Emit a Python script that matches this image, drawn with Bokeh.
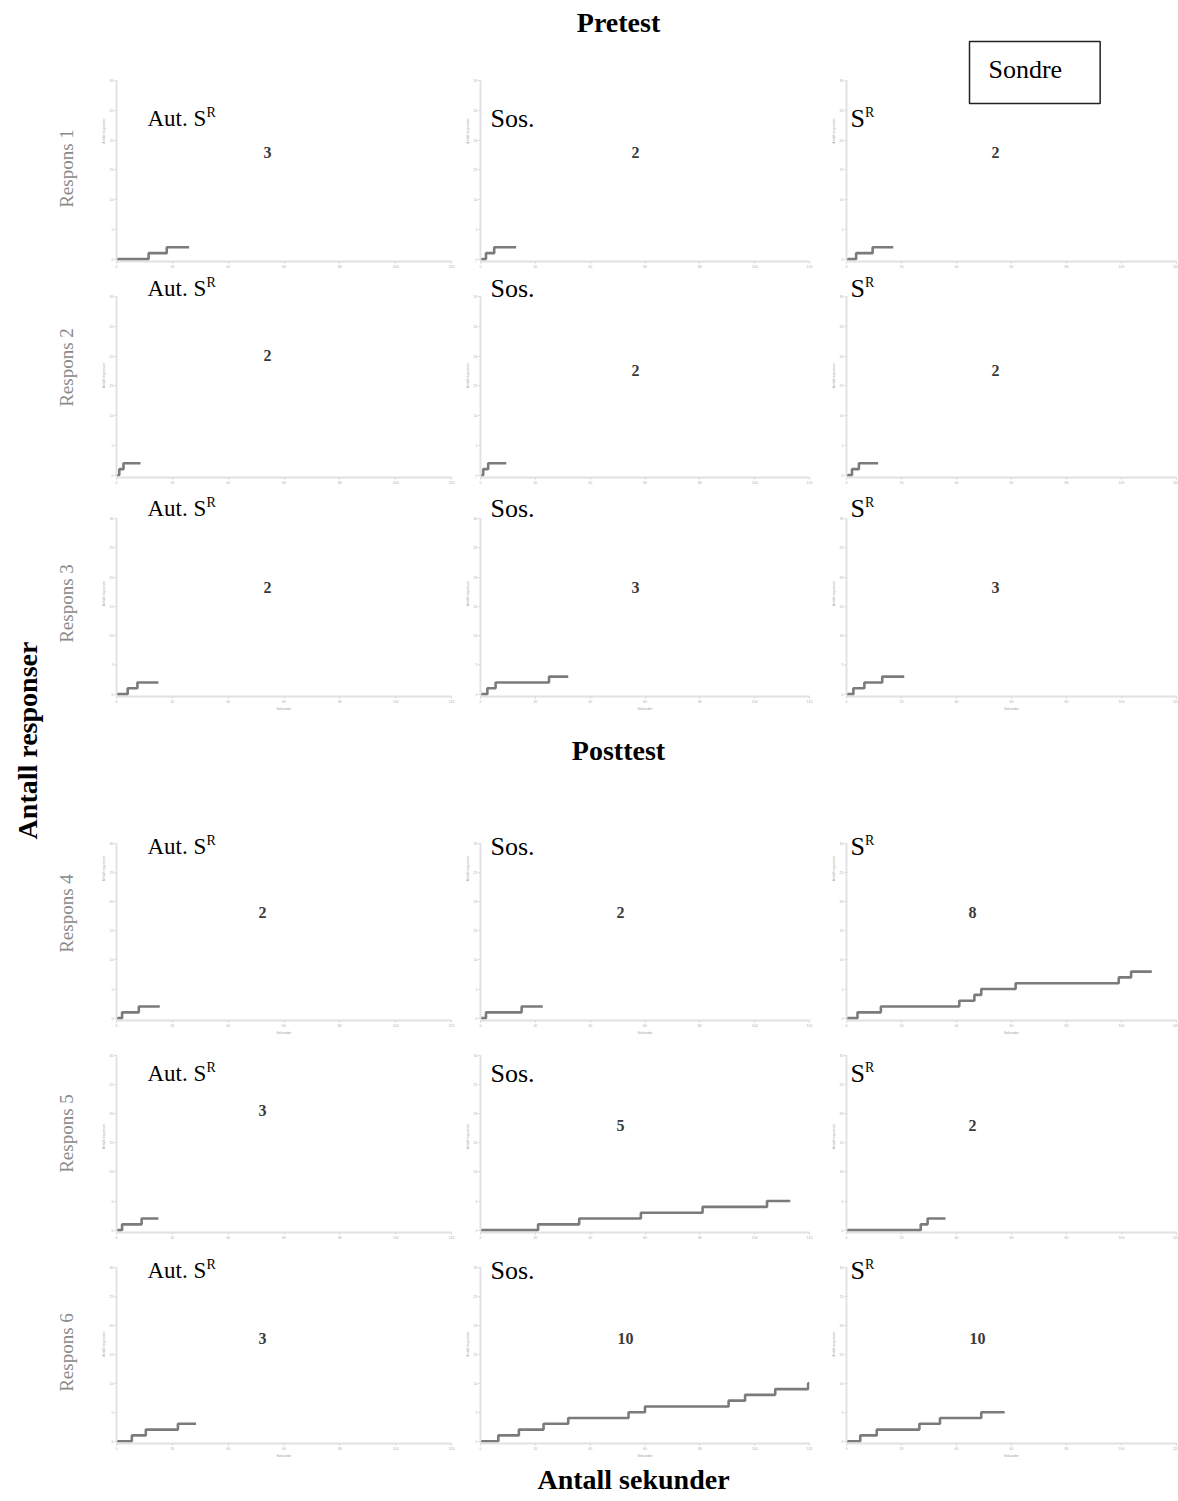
import math
from bokeh.plotting import figure
from bokeh.models import Range1d, FixedTicker, Label
from bokeh.layouts import row, column
from bokeh.embed import file_html
from bokeh.resources import INLINE

# ---------------- data ----------------
x_ticks = [0, 20, 40, 60, 80, 100, 120]
y_ticks = [0, 5, 10, 15, 20, 25, 30]
panel_names = ["Aut. S", "Sos.", "S"]
panel_sup = ["R", "", "R"]
row_names = ["Respons 1", "Respons 2", "Respons 3", "Respons 4", "Respons 5", "Respons 6"]
section_titles = ["Pretest", "Posttest"]
participant = "Sondre"
x_title = "Antall sekunder"
y_title = "Antall responser"

# response times (seconds) for each panel: [Aut. SR, Sos., SR]
resp1_times = [[11.5, 18.0], [2.0, 5.0], [3.5, 9.5]]
resp1_end = [26.0, 13.0, 17.0]
resp1_count = ["3", "2", "2"]

resp2_times = [[1.0, 2.5], [1.0, 2.8], [2.0, 4.5]]
resp2_end = [8.6, 9.4, 11.5]
resp2_count = ["2", "2", "2"]

resp3_times = [[4.0, 7.5], [2.5, 5.5, 25.0], [2.5, 6.5, 13.0]]
resp3_end = [15.0, 32.0, 21.0]
resp3_count = ["2", "3", "3"]

resp4_times = [[2.0, 8.0], [2.0, 15.0], [4.0, 12.5, 41.0, 46.5, 49.0, 61.5, 99.0, 103.5]]
resp4_end = [15.5, 22.7, 111.0]
resp4_count = ["2", "2", "8"]

resp5_times = [[2.0, 9.0], [21.0, 36.0, 58.5, 81.0, 104.5], [27.0, 29.5]]
resp5_end = [15.0, 113.0, 36.0]
resp5_count = ["3", "5", "2"]

resp6_times = [[5.5, 10.5, 22.0],
               [6.5, 14.0, 23.0, 32.0, 54.0, 60.0, 90.5, 96.5, 107.5, 119.5],
               [5.0, 11.0, 26.5, 34.0, 49.0]]
resp6_end = [28.5, 120.0, 57.5]
resp6_count = ["3", "10", "10"]

all_times = [resp1_times, resp2_times, resp3_times, resp4_times, resp5_times, resp6_times]
all_end = [resp1_end, resp2_end, resp3_end, resp4_end, resp5_end, resp6_end]
all_count = [resp1_count, resp2_count, resp3_count, resp4_count, resp5_count, resp6_count]

# ---------------- layout (page pixels) ----------------
LEFT_W = 80
TOTAL_W = 1178
col_fig = [(80, 462), (462, 828), (828, 1178)]
col_frame = [(116, 451), (477, 809), (846, 1176)]
row_fig = [(0, 273), (273, 490), (490, 716), (716, 1040), (1040, 1244), (1244, 1463)]
row_axis = [(80, 261), (296, 477), (518, 696), (843, 1020), (1055, 1232), (1267, 1443)]
show_xlabel = [False, False, True, True, False, True]
BOTTOM = (1463, 1499)
TOTAL_H = BOTTOM[1]

label_base = [118, 288, 508, 846, 1073, 1270]
label_x = [147, 487, 850]
label_size = [23, 26, 26]
sup_dx = [59, 0, 14.5]
count_pos = [
    [(267, 152), (632, 152), (995, 152)],
    [(267, 355), (632, 370), (995, 370)],
    [(267, 587), (632, 587), (995, 587)],
    [(262, 912), (617, 912), (972, 912)],
    [(262, 1110), (617, 1125), (972, 1125)],
    [(262, 1338), (622, 1338), (977, 1338)],
]
respons_y = [168, 367, 603, 913, 1133, 1352]
SERIF = "Liberation Serif"
TITLE_KW = dict(text_font=SERIF, text_font_size="28px", text_font_style="bold",
                text_color="black", text_align="center", text_baseline="middle")


def put(p, fx0, fy1, X, Y, text, **kw):
    """Place a text at page position (X, Y) in a figure whose frame starts at fx0 (left)
    and ends at fy1 (bottom)."""
    p.add_layout(Label(x=X - fx0, y=fy1 - Y, x_units="screen", y_units="screen",
                       text=text, **kw))


def make_panel(r, c):
    fx0, fx1 = col_fig[c]
    fy0, fy1 = row_fig[r]
    ax0, ax1 = col_frame[c]
    a_top, a_bot = row_axis[r]
    k = (a_bot - a_top) / 30.4          # px per response
    y_end = 30 + (a_top - fy0) / k      # frame reaches the figure top
    p = figure(width=fx1 - fx0, height=fy1 - fy0,
               x_range=Range1d(0, 120), y_range=Range1d(-0.4, y_end),
               output_backend="svg", toolbar_location=None,
               min_border_left=ax0 - fx0, min_border_right=fx1 - ax1,
               min_border_top=0, min_border_bottom=fy1 - a_bot,
               x_axis_label="Sekunder" if show_xlabel[r] else None,
               y_axis_label="Antall responser")
    p.grid.visible = False
    p.outline_line_color = None
    p.background_fill_color = "white"
    p.border_fill_color = "white"
    p.xaxis.ticker = FixedTicker(ticks=x_ticks)
    p.yaxis.ticker = FixedTicker(ticks=y_ticks)
    p.yaxis.bounds = (0, 30)
    for ax in (p.xaxis[0], p.yaxis[0]):
        ax.axis_line_color = "#e2e2e2"
        ax.axis_line_width = 2
        ax.major_tick_line_color = "#d4d4d4"
        ax.major_tick_out = 2
        ax.major_tick_in = 0
        ax.minor_tick_line_color = None
        ax.major_label_text_font_size = "3.5px"
        ax.major_label_text_color = "#b0b0b0"
        ax.major_label_standoff = 1
        ax.axis_label_text_font_size = "3.5px"
        ax.axis_label_text_color = "#a0a0a0"
        ax.axis_label_text_font_style = "normal"
        ax.axis_label_standoff = 1

    times = all_times[r][c]
    xs = [0.0] + list(times) + [all_end[r][c]]
    ys = list(range(len(times) + 1)) + [len(times)]
    p.step(xs, ys, mode="after", line_color="#7b7b7b", line_width=2.6)

    # panel label (with superscript R)
    put(p, ax0, a_bot, label_x[c], label_base[r], panel_names[c],
        text_font=SERIF, text_font_size=f"{label_size[c]}px", text_color="black",
        text_align="left", text_baseline="alphabetic")
    if panel_sup[c]:
        put(p, ax0, a_bot, label_x[c] + sup_dx[c], label_base[r] - 6, panel_sup[c],
            text_font=SERIF, text_font_size="14px", text_color="black",
            text_align="left", text_baseline="alphabetic")
    # number of responses
    cx, cy = count_pos[r][c]
    put(p, ax0, a_bot, cx, cy, all_count[r][c], text_font=SERIF, text_font_size="16px",
        text_font_style="bold", text_color="#3a3a3a", text_align="center",
        text_baseline="middle")
    if r == 0 and c == 1:
        put(p, ax0, a_bot, 615, 22, section_titles[0], **TITLE_KW)
    if r == 3 and c == 1:
        put(p, ax0, a_bot, 615, 750, section_titles[1], **TITLE_KW)
    if r == 0 and c == 2:
        put(p, ax0, a_bot, 969, 72, participant, text_font=SERIF, text_font_size="26px",
            text_color="black", text_align="left", text_baseline="middle",
            border_line_color="#222222", border_line_width=1.5,
            background_fill_color="white",
            padding=dict(left=19, right=38, top=13, bottom=20))
    return p


def blank(width, height):
    f = figure(width=width, height=height, output_backend="svg", toolbar_location=None,
               min_border=0, x_range=Range1d(0, 1), y_range=Range1d(0, 1),
               x_axis_location=None, y_axis_location=None)
    f.grid.visible = False
    f.outline_line_color = None
    return f


rows = []
for r in range(6):
    rows.append(row(*[make_panel(r, c) for c in range(3)]))

bottom = blank(TOTAL_W - LEFT_W, BOTTOM[1] - BOTTOM[0])
put(bottom, LEFT_W, BOTTOM[1], 633, 1479, x_title, **TITLE_KW)
rows.append(bottom)

left = blank(LEFT_W, TOTAL_H)
put(left, 0, TOTAL_H, 27, 740, y_title, angle=math.pi / 2, **TITLE_KW)
for r in range(6):
    put(left, 0, TOTAL_H, 66, respons_y[r], row_names[r], text_font=SERIF,
        text_font_size="19px", text_color="#8a8a8a", angle=math.pi / 2,
        text_align="center", text_baseline="middle")

layout = row(left, column(*rows))
open("out.html", "w").write(file_html(layout, INLINE))
